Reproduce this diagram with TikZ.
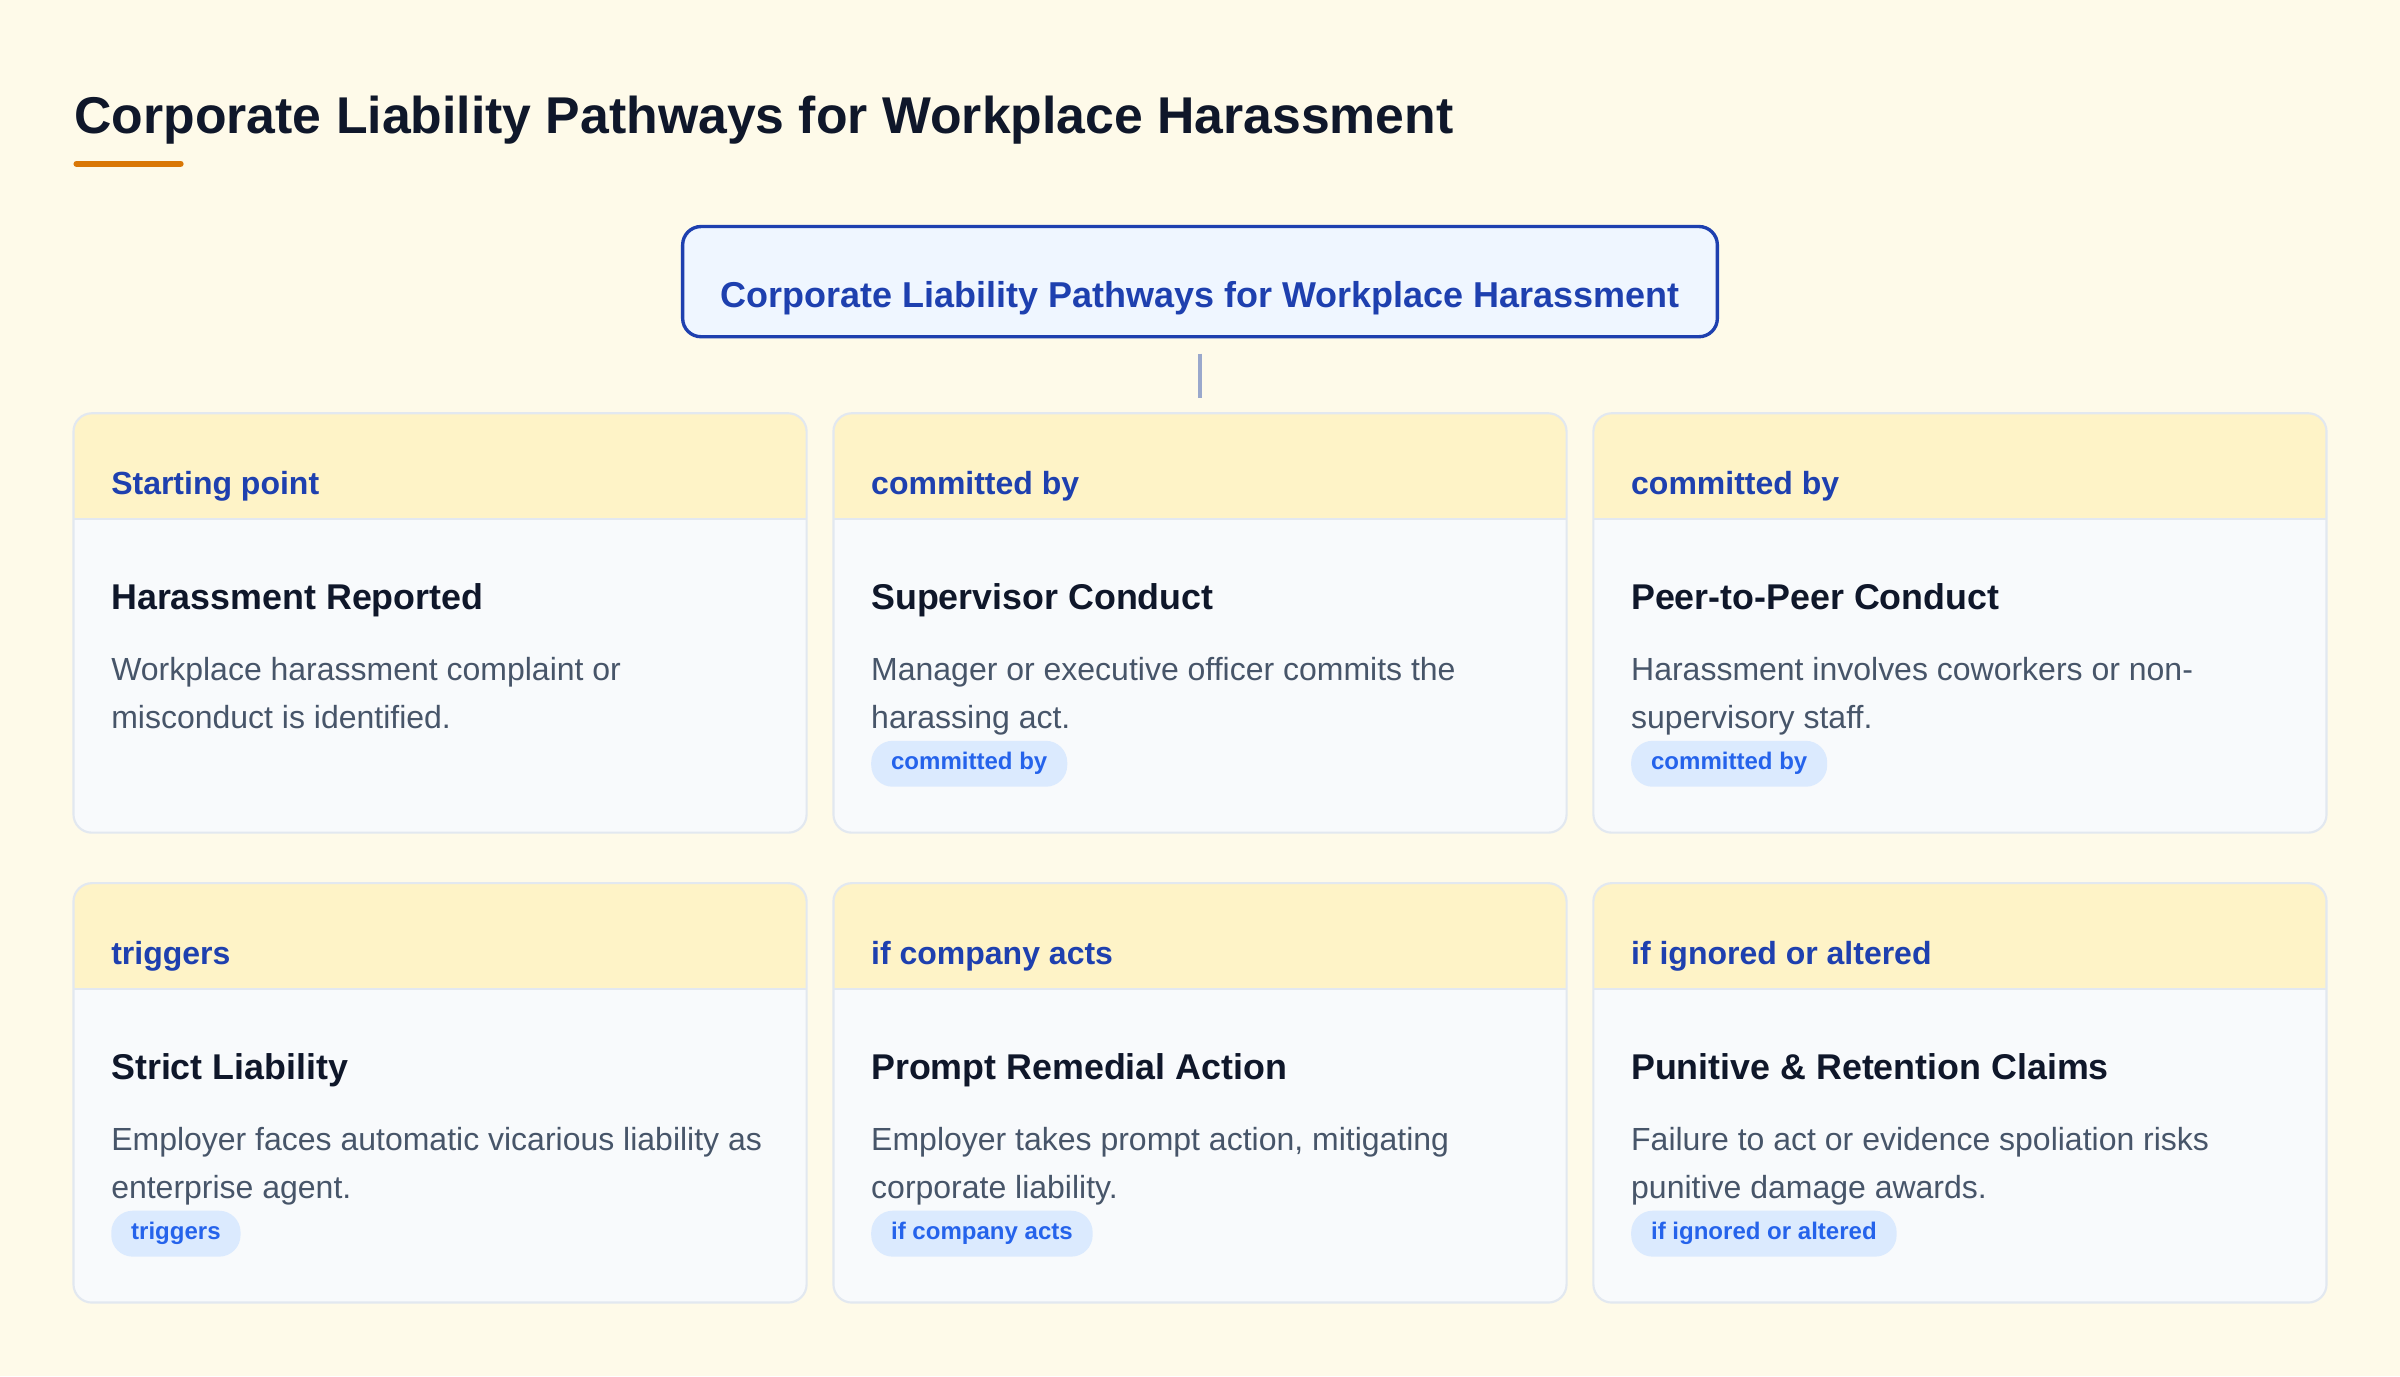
\documentclass[tikz,border=0pt]{standalone}
\usepackage{fontspec}
\setmainfont{Liberation Sans}
\usepackage{tikz}

\definecolor{bg}{HTML}{FEFAE9}
\definecolor{cardfill}{HTML}{F8FAFC}
\definecolor{cardline}{HTML}{E2E8F0}
\definecolor{hdrfill}{HTML}{FEF3C7}
\definecolor{hdrtext}{HTML}{1E40AF}
\definecolor{ttltext}{HTML}{0F172A}
\definecolor{txtcol}{HTML}{475569}
\definecolor{tagfill}{HTML}{DBEAFE}
\definecolor{tagtext}{HTML}{2563EB}
\definecolor{mainfill}{HTML}{EFF6FF}
\definecolor{mainline}{HTML}{1E40AF}
\definecolor{linkcol}{HTML}{9AA8CC}
\definecolor{accent}{HTML}{D97706}

\begin{document}
\begin{tikzpicture}[x=0.5pt,y=-0.5pt,line width=0.7pt]
\tikzstyle{main}=[draw=mainline,line width=1.1pt,fill=mainfill,text=mainline,rounded corners=6pt,minimum width=338pt,minimum height=36pt,inner sep=0pt,outer sep=0pt,text height=17pt,text depth=0pt,font=\bfseries\fontsize{11.75}{14}\selectfont];
\tikzstyle{card}=[draw=cardline,fill=cardfill,rounded corners=6pt,minimum width=239.5pt,minimum height=137pt,inner sep=0pt,outer sep=0pt,
  path picture={\fill[hdrfill,sharp corners] (path picture bounding box.north west) rectangle ([yshift=-34.5pt]path picture bounding box.north east);
  \draw[cardline,sharp corners] ([yshift=-34.5pt]path picture bounding box.north west) -- ([yshift=-34.5pt]path picture bounding box.north east);}];
\tikzstyle{hdr}=[anchor=base west,inner sep=0pt,text=hdrtext,font=\bfseries\fontsize{10.45}{12}\selectfont];
\tikzstyle{ttl}=[anchor=base west,inner sep=0pt,text=ttltext,font=\bfseries\fontsize{11.7}{14}\selectfont];
\tikzstyle{txt}=[anchor=north west,inner sep=0pt,align=left,text=txtcol,font=\fontsize{10.45}{15.5}\selectfont];
\tikzstyle{tag}=[anchor=west,fill=tagfill,text=tagtext,rounded corners=7pt,minimum height=15pt,inner xsep=6.5pt,inner ysep=0pt,font=\bfseries\fontsize{7.85}{9}\selectfont];
\tikzstyle{link}=[draw=linkcol,line width=1pt,shorten <=5.5pt,shorten >=5pt];

\fill [bg] (0,0) rectangle (1568,899);
\useasboundingbox (0,0) rectangle (1568,899);

% heading
\node [anchor=base west,inner sep=0pt,text=ttltext,font=\bfseries\fontsize{16.9}{20}\selectfont] (head) at (48,87) {Corporate Liability Pathways for Workplace Harassment};
\draw [accent,line width=2pt,line cap=round] (50,107) -- (118,107);

\node [main] (top) at (784,184) {Corporate Liability Pathways for Workplace Harassment};

% first row
\node [card] (c1) at (287.5,407) {};
\node [card] (c2) at (784,407) {};
\node [card] (c3) at (1280.5,407) {};
\node [hdr] (h1) at (72,323) {Starting point};
\node [hdr] (h2) at (568.5,323) {committed by};
\node [hdr] (h3) at (1065,323) {committed by};
\node [ttl] (t1) at (72,398) {Harassment Reported};
\node [ttl] (t2) at (568.5,398) {Supervisor Conduct};
\node [ttl] (t3) at (1065,398) {Peer-to-Peer Conduct};
\node [txt] (d1) at (72,429) {Workplace harassment complaint or\\misconduct is identified.};
\node [txt] (d2) at (568.5,429) {Manager or executive officer commits the\\harassing act.};
\node [txt] (d3) at (1065,429) {Harassment involves coworkers or non-\\supervisory staff.};
\node [tag] (b2) at (568.5,499) {committed by};
\node [tag] (b3) at (1065,499) {committed by};

% second row
\node [card] (c4) at (287.5,714) {};
\node [card] (c5) at (784,714) {};
\node [card] (c6) at (1280.5,714) {};
\node [hdr] (h4) at (72,630) {triggers};
\node [hdr] (h5) at (568.5,630) {if company acts};
\node [hdr] (h6) at (1065,630) {if ignored or altered};
\node [ttl] (t4) at (72,705) {Strict Liability};
\node [ttl] (t5) at (568.5,705) {Prompt Remedial Action};
\node [ttl] (t6) at (1065,705) {Punitive \& Retention Claims};
\node [txt] (d4) at (72,736) {Employer faces automatic vicarious liability as\\enterprise agent.};
\node [txt] (d5) at (568.5,736) {Employer takes prompt action, mitigating\\corporate liability.};
\node [txt] (d6) at (1065,736) {Failure to act or evidence spoliation risks\\punitive damage awards.};
\node [tag] (b4) at (72,806) {triggers};
\node [tag] (b5) at (568.5,806) {if company acts};
\node [tag] (b6) at (1065,806) {if ignored or altered};

\draw [link] (top) -- (c2);
\end{tikzpicture}
\end{document}
